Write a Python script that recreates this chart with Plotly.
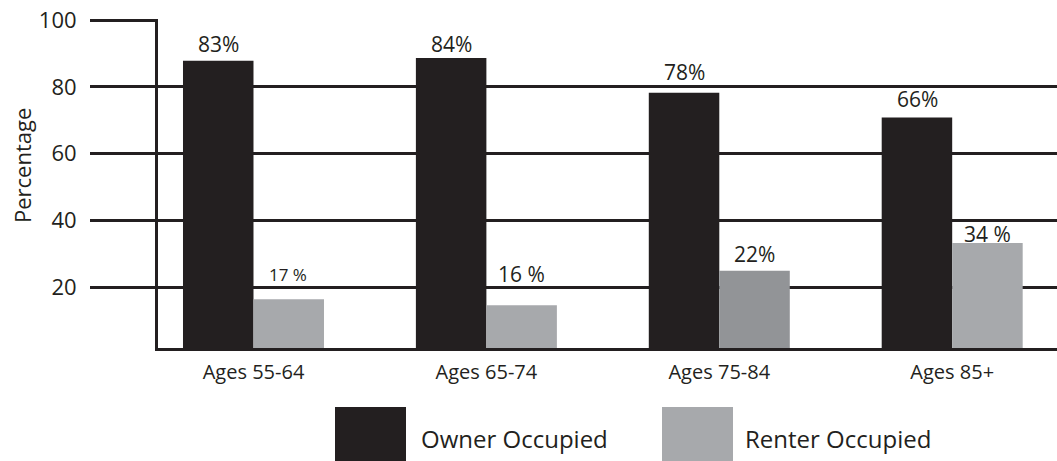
import plotly.graph_objects as go

# ---------------- data ----------------
categories = ["Ages 55-64", "Ages 65-74", "Ages 75-84", "Ages 85+"]
series_names = ["Owner Occupied", "Renter Occupied"]
owner_values = [87.8, 88.6, 78.2, 70.8]
renter_values = [16.4, 14.6, 24.9, 33.2]
owner_labels = ["83%", "84%", "78%", "66%"]
renter_labels = ["17 %", "16 %", "22%", "34 %"]
y_ticks = [20, 40, 60, 80, 100]
y_title = "Percentage"

# ---------------- style ----------------
W, H = 1057, 461
L, R, T, B = 158, 0, 19, 113
DARK = "#231f20"
GRAY = "#a7a9ac"
owner_colors = [DARK, DARK, DARK, DARK]
renter_colors = [GRAY, GRAY, "#929497", GRAY]
owner_label_shift = [1, -2, 5, 3]
renter_label_shift = [11, 15, 1, -7]
owner_label_size = [21, 21, 21, 21]
renter_label_size = [17, 21, 21, 21]
FONT = "Open Sans"


def px_x(px):
    return (px - L) / (W - L - R)


def px_y(py):
    return (H - B - py) / (H - B - T)


fig = go.Figure()
fig.add_trace(go.Bar(x=categories, y=owner_values, name=series_names[0],
                     marker=dict(color=owner_colors, line=dict(width=0))))
fig.add_trace(go.Bar(x=categories, y=renter_values, name=series_names[1],
                     marker=dict(color=renter_colors, line=dict(width=0))))

annotations = []
HALF_BAR = 35
for i, c in enumerate(categories):
    annotations.append(dict(x=c, y=owner_values[i], xref="x", yref="y",
                            text=owner_labels[i], showarrow=False,
                            xanchor="center", yanchor="bottom",
                            xshift=-HALF_BAR, yshift=owner_label_shift[i],
                            font=dict(family=FONT, size=owner_label_size[i], color=DARK)))
    annotations.append(dict(x=c, y=renter_values[i], xref="x", yref="y",
                            text=renter_labels[i], showarrow=False,
                            xanchor="center", yanchor="bottom",
                            xshift=HALF_BAR, yshift=renter_label_shift[i],
                            font=dict(family=FONT, size=renter_label_size[i], color=DARK)))

# y-axis title (placed like the reference, not centred on the plot area)
annotations.append(dict(x=px_x(22), y=px_y(166), xref="paper", yref="paper",
                        text=y_title, textangle=-90, showarrow=False,
                        xanchor="center", yanchor="middle",
                        font=dict(family=FONT, size=22, color=DARK)))

# manual legend (large square swatches)
legend_items = [(series_names[0], DARK, 335, 406, 419),
                (series_names[1], GRAY, 662, 733, 743)]
shapes = []
for name, col, x0, x1, tx in legend_items:
    shapes.append(dict(type="rect", xref="paper", yref="paper",
                       x0=px_x(x0), x1=px_x(x1), y0=px_y(462), y1=px_y(407),
                       fillcolor=col, line=dict(width=0)))
    annotations.append(dict(x=px_x(tx), y=px_y(438), xref="paper", yref="paper",
                            text=name, showarrow=False, xanchor="left", yanchor="middle",
                            font=dict(family=FONT, size=24, color=DARK)))

fig.update_layout(
    width=W, height=H,
    margin=dict(l=L, r=R, t=T, b=B, pad=0, autoexpand=False),
    plot_bgcolor="white", paper_bgcolor="white",
    barmode="group", bargap=0.3946, bargroupgap=0,
    showlegend=False,
    font=dict(family=FONT, color=DARK),
    annotations=annotations,
    shapes=shapes,
)
fig.update_xaxes(type="category", range=[-0.41, 3.45], automargin=False,
                 showgrid=False, zeroline=False,
                 showline=True, linewidth=3, linecolor=DARK,
                 ticks="", ticklabelstandoff=4,
                 tickfont=dict(family=FONT, size=20, color=DARK))
fig.update_yaxes(range=[1.8, 100.3], tickvals=y_ticks, automargin=False,
                 showgrid=True, gridcolor=DARK, gridwidth=3,
                 zeroline=False,
                 showline=True, linewidth=3, linecolor=DARK,
                 ticks="outside", ticklen=65, tickwidth=3, tickcolor=DARK,
                 ticklabelstandoff=9, ticklabeloverflow="allow",
                 tickfont=dict(family=FONT, size=22, color=DARK))

fig.write_html("out.html", config={"displayModeBar": False},
               post_script="document.body.style.margin='0';")
